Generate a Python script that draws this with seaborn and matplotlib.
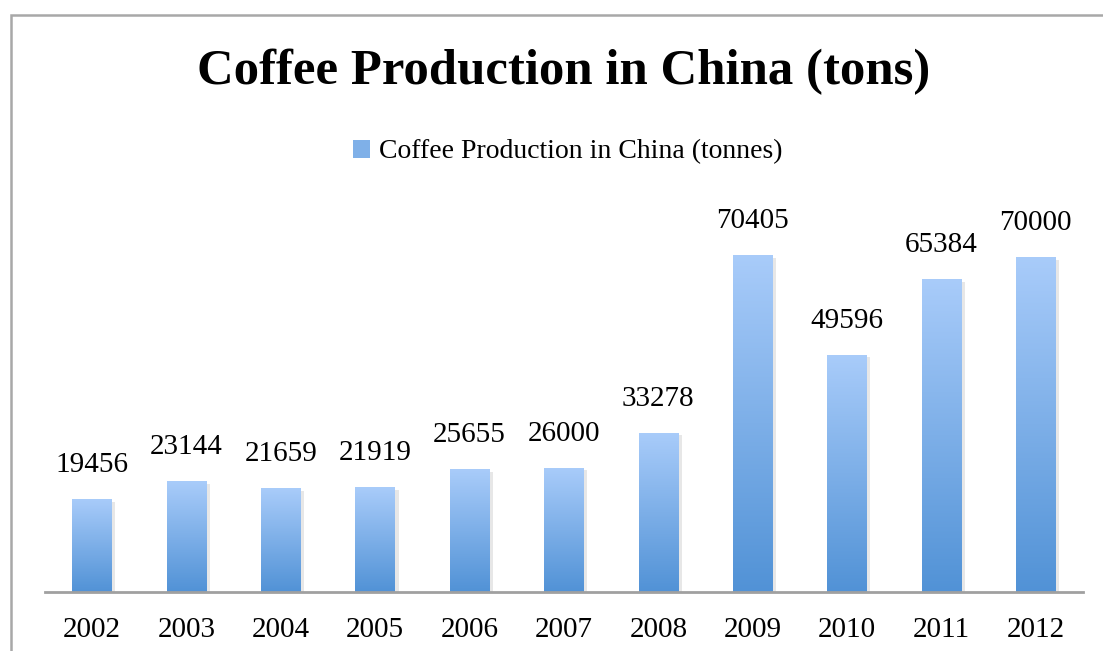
import numpy as np
import pandas as pd
import matplotlib
matplotlib.use("Agg")
import matplotlib.pyplot as plt
import seaborn as sns
from matplotlib.patches import Patch, Rectangle
from matplotlib.colors import LinearSegmentedColormap
from matplotlib import patheffects as pe

# Data
years = ["2002", "2003", "2004", "2005", "2006", "2007", "2008", "2009", "2010", "2011", "2012"]
production = [19456, 23144, 21659, 21919, 25655, 26000, 33278, 70405, 49596, 65384, 70000]
series_name = "Coffee Production in China (tonnes)"
title = "Coffee Production in China (tons)"

df = pd.DataFrame({"year": years, "tonnes": production})

sns.set_theme(style="white")
plt.rcParams["font.family"] = ["Liberation Serif", "DejaVu Serif"]

W, H = 1103, 651
fig = plt.figure(figsize=(W / 100, H / 100), dpi=100)
ax = fig.add_axes([45 / W, (H - 592) / H, (1083 - 45) / W, (592 - 209) / H])

sns.barplot(data=df, x="year", y="tonnes", color="#7FB0E8", width=0.42, ax=ax,
            saturation=1, edgecolor="none")

ax.set_ylim(0, 80000)
ax.set_xlim(-0.5, len(years) - 0.5)

grad_cmap = LinearSegmentedColormap.from_list("bar_grad", ["#5192D6", "#A9CCFA"])
grad = np.linspace(0, 1, 256).reshape(-1, 1)

for bar, val in zip(ax.patches, production):
    x0, w, h = bar.get_x(), bar.get_width(), bar.get_height()
    bar.set_path_effects([pe.SimplePatchShadow(offset=(2.5, -2), alpha=0.15, shadow_rgbFace="#606060"),
                          pe.Normal()])
    img = ax.imshow(grad, extent=(x0, x0 + w, 0, h), origin="lower", aspect="auto",
                    cmap=grad_cmap, zorder=bar.get_zorder() + 0.1)
    img.set_clip_path(bar)
    ax.annotate(f"{val}", (x0 + w / 2, h), xytext=(0, 15), textcoords="offset points",
                ha="center", va="bottom", fontsize=21, color="black")

ax.set_xlabel("")
ax.set_ylabel("")
ax.set_yticks([])
ax.tick_params(axis="x", length=0, labelsize=21, pad=18, colors="black")
for s in ["top", "right", "left"]:
    ax.spines[s].set_visible(False)
ax.spines["bottom"].set_color("#A0A0A0")
ax.spines["bottom"].set_linewidth(2)

fig.text(564 / W, 1 - 72 / H, title, ha="center", va="center",
         fontsize=36.5, fontweight="bold", color="black")

handle = Patch(facecolor="#7FB0E8", edgecolor="none")
fig.legend(handles=[handle], labels=[series_name], loc="center",
           bbox_to_anchor=(568 / W, 1 - 152 / H), frameon=False, fontsize=20,
           handlelength=0.6, handleheight=0.6, handletextpad=0.35, labelcolor="black")

# chart frame
fig.patches.append(Rectangle((10.5 / W, -0.1), 1.2, 1 - 14.5 / H + 0.1,
                             transform=fig.transFigure, fill=False,
                             edgecolor="#A8A8A8", linewidth=1.8))

fig.savefig("out.png", dpi=100)
